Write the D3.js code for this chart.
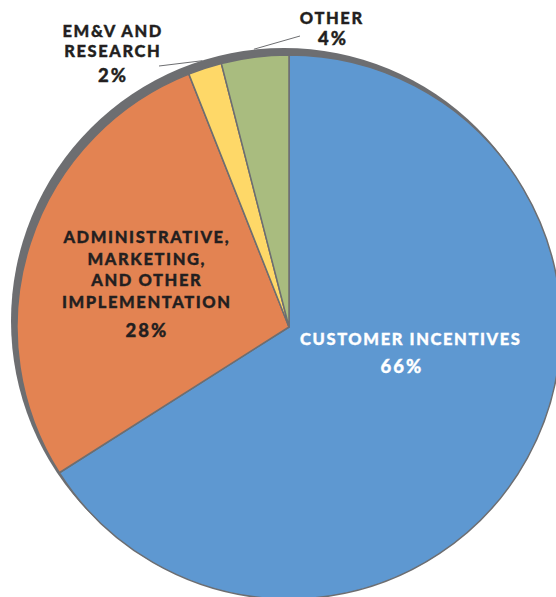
<!DOCTYPE html>
<html>
<head>
<meta charset="utf-8">
<script src="https://cdn.jsdelivr.net/npm/d3@7"></script>
<style>
  html, body { margin: 0; padding: 0; background: #ffffff; }
  svg { display: block; }
  text { font-family: "Lato", "DejaVu Sans", sans-serif; font-weight: 900; }
</style>
</head>
<body>
<svg id="chart" width="556" height="597"></svg>
<script>
// Program budget split by spending category
const categories = ["Customer Incentives", "Administrative, Marketing, and Other Implementation", "EM&V and Research", "Other"];
const shares = [66, 28, 2, 4];
const sliceColors = ["#5e98d1", "#e38352", "#fed868", "#a9bc7f"];
const labelLines = [
  ["CUSTOMER INCENTIVES"],
  ["ADMINISTRATIVE,", "MARKETING,", "AND OTHER", "IMPLEMENTATION"],
  ["EM&V AND", "RESEARCH"],
  ["OTHER"]
];
const percentLabels = ["66%", "28%", "2%", "4%"];

const svg = d3.select("#chart");
const cx = 289, cy = 327, radius = 272;
const rimColor = "#6d6e71";

const pie = d3.pie().sort(null).value(d => d)(shares);
const arc = d3.arc().innerRadius(0).outerRadius(radius);

// offset rim behind the pie
svg.append("circle")
  .attr("cx", cx - 5).attr("cy", cy - 6).attr("r", radius + 1)
  .attr("fill", rimColor);

const g = svg.append("g").attr("transform", `translate(${cx},${cy})`);
g.selectAll("path.slice")
  .data(pie)
  .join("path")
  .attr("class", "slice")
  .attr("d", arc)
  .attr("fill", (d, i) => sliceColors[i])
  .attr("stroke", rimColor)
  .attr("stroke-width", 1.5)
  .attr("stroke-linejoin", "round");

// label placement per category (absolute page coords)
const labelSpec = [
  { x: 410, y: 345, lineGap: 21, pctGap: 28, color: "#ffffff" },
  { x: 146, y: 243, lineGap: 21.5, pctGap: 29, color: "#231f20" },
  { x: 112, y: 37, lineGap: 20, pctGap: 25, color: "#231f20" },
  { x: 331, y: 24, lineGap: 20, pctGap: 21, color: "#231f20" }
];
const pctOffsetX = [-9, 0, 0, 1];
const spacing = 1.6, pctSpacing = 2;

labelSpec.forEach((s, i) => {
  const t = svg.append("g")
    .attr("fill", s.color)
    .attr("stroke", s.color)
    .attr("stroke-width", 0.35)
    .attr("text-anchor", "middle");
  labelLines[i].forEach((line, k) => {
    t.append("text")
      .attr("x", s.x + spacing / 2).attr("y", s.y + k * s.lineGap)
      .attr("font-size", 16.5)
      .attr("letter-spacing", spacing)
      .text(line);
  });
  t.append("text")
    .attr("x", s.x + pctOffsetX[i] + pctSpacing / 2)
    .attr("y", s.y + (labelLines[i].length - 1) * s.lineGap + s.pctGap)
    .attr("font-size", 18.5)
    .attr("letter-spacing", pctSpacing)
    .text(percentLabels[i]);
});

// leader lines for the thin slices
const leaders = [
  { slice: 2, from: [159, 66] },
  { slice: 3, from: [300, 36] }
];
leaders.forEach(l => {
  const d = pie[l.slice];
  const a = (d.startAngle + d.endAngle) / 2;
  const px = cx + Math.sin(a) * (radius + 8);
  const py = cy - Math.cos(a) * (radius + 8);
  svg.append("line")
    .attr("x1", l.from[0]).attr("y1", l.from[1])
    .attr("x2", px).attr("y2", py)
    .attr("stroke", rimColor).attr("stroke-width", 1);
});
</script>
</body>
</html>
